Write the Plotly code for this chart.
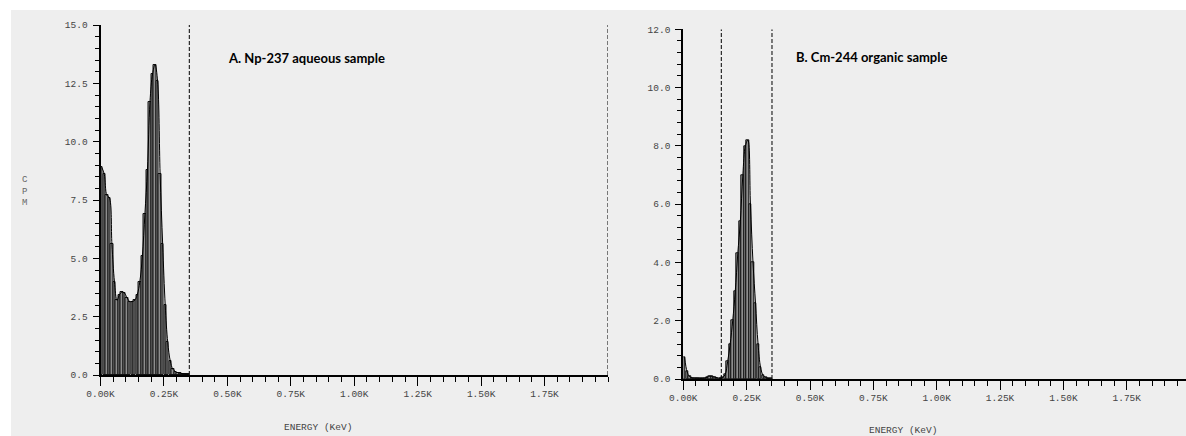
import plotly.graph_objects as go

# ---------------- data ----------------
energy_kev = [0.005, 0.015, 0.025, 0.035, 0.045, 0.055, 0.065, 0.075, 0.085, 0.095,
              0.105, 0.115, 0.125, 0.135, 0.145, 0.155, 0.165, 0.175, 0.185, 0.195,
              0.205, 0.215, 0.225, 0.235, 0.245, 0.255, 0.265, 0.275, 0.285, 0.295,
              0.305, 0.315, 0.325, 0.335, 0.345]

np237_cpm = [8.9, 8.6, 7.7, 7.6, 5.6, 4.0, 3.2, 3.45, 3.55, 3.5,
             3.3, 3.15, 3.15, 3.2, 3.45, 4.0, 5.1, 6.9, 8.8, 11.7,
             12.9, 13.3, 12.6, 8.6, 5.6, 3.0, 1.4, 0.6, 0.25, 0.15,
             0.1, 0.07, 0.05, 0.04, 0.03]

cm244_cpm = [0.75, 0.25, 0.08, 0.04, 0.03, 0.03, 0.02, 0.02, 0.03, 0.06,
             0.1, 0.08, 0.06, 0.04, 0.02, 0.05, 0.15, 0.6, 1.2, 2.0,
             3.0, 4.3, 5.4, 7.0, 8.0, 8.2, 6.0, 4.0, 2.6, 1.2,
             0.4, 0.12, 0.05, 0.02, 0.01]

x_tick_vals = [0, 0.25, 0.5, 0.75, 1.0, 1.25, 1.5, 1.75]
x_tick_text = ["0.00K", "0.25K", "0.50K", "0.75K", "1.00K", "1.25K", "1.50K", "1.75K"]
ya_tick_vals = [0, 2.5, 5, 7.5, 10, 12.5, 15]
ya_tick_text = ["0.0", "2.5", "5.0", "7.5", "10.0", "12.5", "15.0"]
yb_tick_vals = [0, 2, 4, 6, 8, 10, 12]
yb_tick_text = ["0.0", "2.0", "4.0", "6.0", "8.0", "10.0", "12.0"]

window_a = [0.35, 2.0]
window_b = [0.15, 0.35]

title_a = "A. Np-237 aqueous sample"
title_b = "B. Cm-244 organic sample"
x_title = "ENERGY (KeV)"
y_title = "C<br>P<br>M"

# ---------------- layout helpers ----------------
W, H = 1186, 436


def fx(px):
    return px / W


def fy(py):
    return 1 - py / H


MONO = "Liberation Mono, DejaVu Sans Mono, monospace"
TICKFONT = dict(family=MONO, size=9.5, color="#444444")

fig = go.Figure()

bar_style = dict(color="#8e8e8e", line=dict(color="#111111", width=1))

fig.add_trace(go.Bar(x=energy_kev, y=np237_cpm, width=0.0095, marker=bar_style,
                     xaxis="x", yaxis="y", showlegend=False))
fig.add_trace(go.Scatter(x=energy_kev, y=np237_cpm, mode="lines",
                         line=dict(color="black", width=1, shape="spline"),
                         xaxis="x", yaxis="y", showlegend=False))
fig.add_trace(go.Bar(x=energy_kev, y=cm244_cpm, width=0.0095, marker=bar_style,
                     xaxis="x2", yaxis="y2", showlegend=False))
fig.add_trace(go.Scatter(x=energy_kev, y=cm244_cpm, mode="lines",
                         line=dict(color="black", width=1, shape="spline"),
                         xaxis="x2", yaxis="y2", showlegend=False))


def xaxis_cfg(domain, rng, anchor):
    return dict(domain=domain, range=rng, anchor=anchor, automargin=False,
                showline=True, linecolor="black", linewidth=1.5,
                showgrid=False, zeroline=False,
                ticks="outside", ticklen=9, tickwidth=1, tickcolor="black",
                tickvals=x_tick_vals, ticktext=x_tick_text, tickfont=TICKFONT,
                minor=dict(dtick=0.05, tick0=0, ticks="outside", ticklen=5,
                           tickwidth=1, tickcolor="black", showgrid=False),
                fixedrange=True)


def yaxis_cfg(domain, rng, anchor, vals, text, minor_dtick):
    return dict(domain=domain, range=rng, anchor=anchor, automargin=False,
                showline=True, linecolor="black", linewidth=2,
                showgrid=False, zeroline=False,
                ticks="outside", ticklen=6, tickwidth=1, tickcolor="black",
                tickvals=vals, ticktext=text, tickfont=TICKFONT,
                ticklabelstandoff=3,
                minor=dict(dtick=minor_dtick, tick0=0, ticks="outside", ticklen=4,
                           tickwidth=1, tickcolor="black", showgrid=False),
                fixedrange=True)


xb_end = (W - 683.3) / 253.4

fig.update_layout(
    width=W, height=H,
    margin=dict(l=0, r=0, t=0, b=0, pad=0, autoexpand=False),
    paper_bgcolor="white",
    plot_bgcolor="rgba(0,0,0,0)",
    bargap=0,
    showlegend=False,
    xaxis=xaxis_cfg([fx(100.5), fx(608)], [0, 2.0], "y"),
    yaxis=yaxis_cfg([fy(375), fy(25)], [0, 15], "x", ya_tick_vals, ya_tick_text, 0.5),
    xaxis2=xaxis_cfg([fx(683.3), 1.0], [0, xb_end], "y2"),
    yaxis2=yaxis_cfg([fy(379), fy(29.3)], [0, 12], "x2", yb_tick_vals, yb_tick_text, 0.4),
)

shapes = [
    dict(type="rect", xref="paper", yref="paper", x0=fx(11), x1=1.0, y0=0, y1=fy(10),
         fillcolor="#eeeeee", line=dict(width=0), layer="below"),
]
dash = dict(color="black", width=1, dash="4px,2px")
for xv in window_a:
    shapes.append(dict(type="line", xref="x", yref="y", x0=xv, x1=xv, y0=0, y1=15.1,
                       line=dash, layer="above"))
for xv in window_b:
    shapes.append(dict(type="line", xref="x2", yref="y2", x0=xv, x1=xv, y0=0, y1=12.0,
                       line=dash, layer="above"))
fig.update_layout(shapes=shapes)

annotations = [
    dict(text="<b>" + title_a + "</b>", xref="paper", yref="paper", x=fx(226), y=fy(58),
         xanchor="left", yanchor="middle", showarrow=False,
         font=dict(family="Lato, Open Sans, sans-serif", size=13, color="black")),
    dict(text="<b>" + title_b + "</b>", xref="paper", yref="paper", x=fx(794), y=fy(57),
         xanchor="left", yanchor="middle", showarrow=False,
         font=dict(family="Lato, Open Sans, sans-serif", size=13, color="black")),
    dict(text=x_title, xref="paper", yref="paper", x=fx(318), y=fy(427),
         xanchor="center", yanchor="middle", showarrow=False,
         font=dict(family=MONO, size=9.5, color="#444444")),
    dict(text=x_title, xref="paper", yref="paper", x=fx(903), y=fy(430),
         xanchor="center", yanchor="middle", showarrow=False,
         font=dict(family=MONO, size=9.5, color="#444444")),
    dict(text=y_title, xref="paper", yref="paper", x=fx(25), y=fy(191),
         xanchor="center", yanchor="middle", showarrow=False,
         font=dict(family=MONO, size=9, color="#666666")),
]
fig.update_layout(annotations=annotations)

fig.write_html("out.html")
